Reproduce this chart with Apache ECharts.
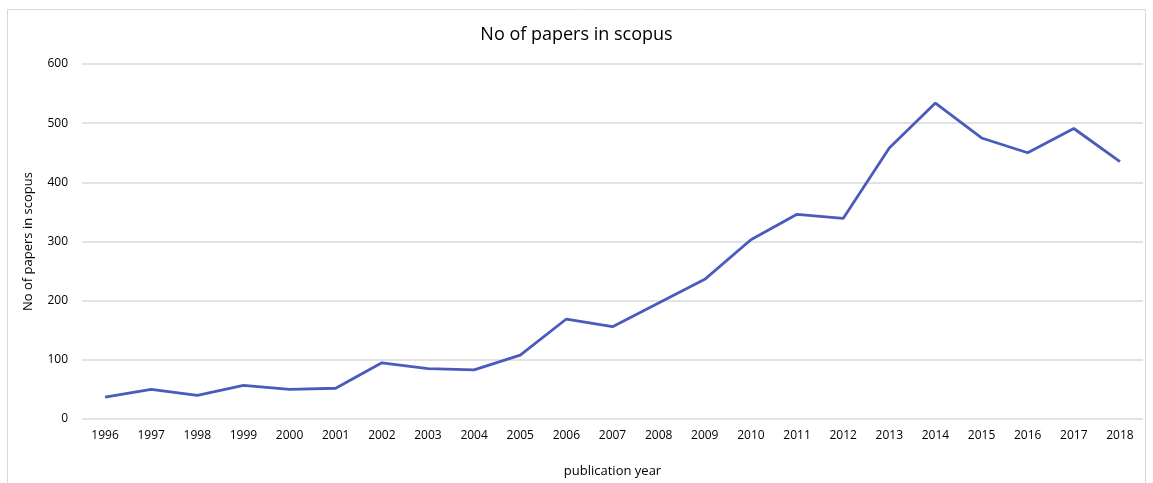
<!DOCTYPE html>
<html>
<head>
<meta charset="utf-8">
<script src="https://cdn.jsdelivr.net/npm/echarts@6/dist/echarts.min.js"></script>
<style>
html,body{margin:0;padding:0;background:#fff;}
#main{width:1153px;height:483px;}
</style>
</head>
<body>
<div id="main"></div>
<script>
const years = ['1996','1997','1998','1999','2000','2001','2002','2003','2004','2005','2006','2007','2008','2009','2010','2011','2012','2013','2014','2015','2016','2017','2018'];
const papers = [37, 50, 40, 57, 50, 52, 95, 85, 83, 108, 169, 156, 196, 236, 303, 346, 339, 458, 534, 475, 450, 491, 435];
const yTicks = { min: 0, max: 600, interval: 100 };

const chart = echarts.init(document.getElementById('main'));
const font = '"Open Sans", "Liberation Sans", sans-serif';
chart.setOption({
  animation: false,
  backgroundColor: '#fff',
  graphic: [{
    type: 'rect',
    shape: { x: 7.5, y: 9.5, width: 1138, height: 480 },
    style: { fill: 'none', stroke: '#d9d9d9', lineWidth: 1 },
    silent: true
  }],
  title: {
    text: 'No of papers in scopus',
    left: 'center',
    top: 21,
    textStyle: { fontFamily: font, fontSize: 18, fontWeight: 'normal', color: '#000' }
  },
  grid: { left: 82, right: 10, top: 64, bottom: 61 },
  xAxis: {
    type: 'category',
    data: years,
    boundaryGap: true,
    name: 'publication year',
    nameLocation: 'middle',
    nameGap: 46,
    nameTextStyle: { fontFamily: font, fontSize: 13, color: '#000' },
    axisLine: { show: false },
    axisTick: { show: false },
    axisLabel: { fontFamily: font, fontSize: 12, color: '#000', margin: 11, interval: 0 }
  },
  yAxis: {
    type: 'value',
    min: yTicks.min,
    max: yTicks.max,
    interval: yTicks.interval,
    name: 'No of papers in scopus',
    nameLocation: 'middle',
    nameGap: 47,
    nameTextStyle: { fontFamily: font, fontSize: 13, color: '#000' },
    axisLine: { show: false },
    axisTick: { show: false },
    axisLabel: { fontFamily: font, fontSize: 12, color: '#000', margin: 14 },
    splitLine: { lineStyle: { color: '#d9d9d9', width: 1.5 } }
  },
  series: [{
    type: 'line',
    data: papers,
    symbol: 'none',
    lineStyle: { color: '#4a5bbd', width: 2.8 },
    itemStyle: { color: '#4a5bbd' }
  }]
});
</script>
</body>
</html>
